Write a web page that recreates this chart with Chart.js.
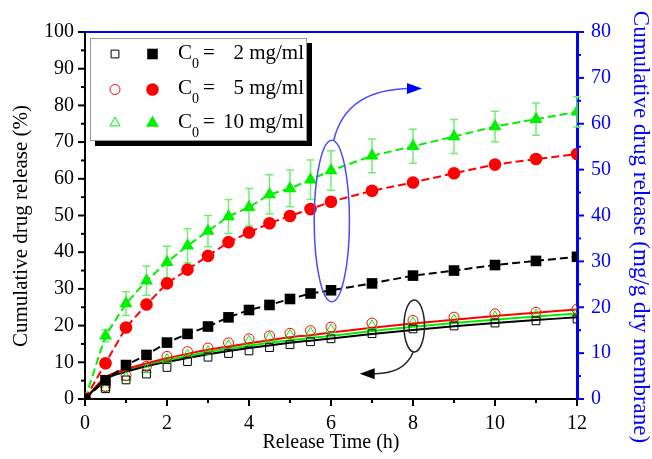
<!DOCTYPE html>
<html>
<head>
<meta charset="utf-8">
<script src="https://cdn.jsdelivr.net/npm/chart.js@4.4.0/dist/chart.umd.min.js"></script>
<style>
    html, body { margin: 0; padding: 0; background: #fff; }
    #wrap { width: 652px; height: 459px; }
</style>
</head>
<body>
<div id="wrap"><canvas id="releaseChart" width="652" height="459"></canvas></div>
<script>
const releaseTimes = [0, 0.5, 1, 1.5, 2, 2.5, 3, 3.5, 4, 4.5, 5, 5.5, 6, 7, 8, 9, 10, 11, 12];

// mg/g dry membrane (right axis), filled markers
const amount2 = [0, 4.1, 7.4, 9.6, 12.3, 14.2, 15.8, 17.8, 19.4, 20.5, 21.8, 23.0, 23.7, 25.2, 26.9, 28.0, 29.2, 30.1, 31.0];
const amount5 = [0, 7.8, 15.6, 20.6, 25.2, 28.2, 31.2, 34.2, 36.3, 38.3, 39.9, 41.4, 43.0, 45.4, 47.2, 49.2, 51.1, 52.3, 53.4];
const amount10 = [0, 13.8, 20.8, 25.8, 29.8, 33.4, 36.6, 39.8, 41.8, 44.6, 45.9, 47.8, 49.8, 53.0, 55.1, 57.2, 59.4, 61.0, 62.6];
const amount10Err = [0, 1.3, 2.6, 3.2, 3.5, 3.7, 3.4, 3.7, 4.1, 4.3, 4.0, 4.3, 4.3, 3.7, 3.7, 3.7, 3.3, 3.5, 3.3];

// cumulative release % (left axis), open markers
const percent2 = [0, 2.8, 5.2, 6.8, 8.6, 10.2, 11.4, 12.4, 13.1, 14.0, 14.8, 15.6, 16.4, 17.8, 19.1, 19.9, 20.7, 21.3, 21.8];
const percent5 = [0, 3.4, 6.4, 8.9, 11.6, 12.9, 13.9, 15.3, 16.4, 17.2, 17.9, 18.6, 19.6, 20.7, 21.4, 22.3, 23.2, 23.6, 24.5];
const percent10 = [0, 3.0, 5.9, 8.0, 10.8, 12.0, 13.0, 14.6, 15.8, 16.7, 17.4, 18.0, 18.9, 20.0, 20.8, 21.6, 22.4, 22.9, 23.6];

// fitted curves through the % data
const fit2 = [0, 5.4, 7.4, 8.9, 10.1, 11.2, 12.2, 13.1, 13.9, 14.6, 15.3, 15.9, 16.5, 17.7, 18.8, 19.8, 20.7, 21.5, 22.3];
const fit5 = [0, 5.9, 8.1, 9.7, 11.1, 12.3, 13.4, 14.3, 15.2, 16.0, 16.8, 17.4, 18.1, 19.4, 20.6, 21.6, 22.6, 23.5, 24.4];
const fit10 = [0, 5.6, 7.7, 9.3, 10.6, 11.7, 12.8, 13.7, 14.5, 15.3, 16.0, 16.6, 17.2, 18.5, 19.7, 20.7, 21.6, 22.5, 23.3];

const legendLabels = ['2 mg/ml', '5 mg/ml', '10 mg/ml'];
const timeTicks = [0, 2, 4, 6, 8, 10, 12];
const percentTicks = [0, 10, 20, 30, 40, 50, 60, 70, 80, 90, 100];
const amountTicks = [0, 10, 20, 30, 40, 50, 60, 70, 80];

const SERIF = '"Liberation Serif", "Times New Roman", serif';
const BLUE = '#0000ff';
const GREEN = '#00f000';
Chart.defaults.font.family = SERIF;

const toPoints = values => releaseTimes.map((t, i) => ({ x: t, y: values[i] }));
const useTicks = list => scale => { scale.ticks = list.map(v => ({ value: v })); };

const series = [
    { color: '#000', style: 'rect', filled: amount2, open: percent2, fit: fit2, big: 7.5, small: 5.5 },
    { color: '#ff0000', style: 'circle', filled: amount5, open: percent5, fit: fit5, big: 6.3, small: 5 },
    { color: GREEN, style: 'triangle', filled: amount10, open: percent10, fit: fit10, big: 7.5, small: 5.8 }
];

const datasets = [];
series.forEach(s => datasets.push({
    data: toPoints(s.filled), yAxisID: 'y2',
    borderColor: s.color, backgroundColor: s.color, borderWidth: 2, borderDash: [8, 4],
    pointStyle: s.style, pointRadius: s.big, pointBorderWidth: 0,
    pointBackgroundColor: s.color, order: 1
}));
series.forEach(s => datasets.push({
    data: toPoints(s.open), yAxisID: 'y', showLine: false,
    pointStyle: s.style, pointRadius: s.small, pointBorderWidth: 1,
    pointBorderColor: s.color, pointBackgroundColor: 'rgba(0,0,0,0)', order: 2
}));
series.forEach(s => datasets.push({
    data: toPoints(s.fit), yAxisID: 'y',
    borderColor: s.color, borderWidth: 2, pointRadius: 0,
    cubicInterpolationMode: 'monotone', order: 3
}));

function drawTicks(ctx, chart) {
    const { x, y, y2 } = chart.scales;
    const area = chart.chartArea;
    ctx.lineWidth = 2;
    ctx.strokeStyle = '#000';
    for (let v = 0; v <= 12; v += 1) {
        const px = x.getPixelForValue(v);
        const len = timeTicks.includes(v) ? 7 : 4;
        ctx.beginPath(); ctx.moveTo(px, area.bottom); ctx.lineTo(px, area.bottom + len); ctx.stroke();
    }
    for (let v = 0; v <= 100; v += 5) {
        const py = y.getPixelForValue(v);
        const len = percentTicks.includes(v) ? 7 : 4;
        ctx.beginPath(); ctx.moveTo(area.left, py); ctx.lineTo(area.left - len, py); ctx.stroke();
    }
    ctx.strokeStyle = BLUE;
    for (let v = 0; v <= 80; v += 5) {
        const py = y2.getPixelForValue(v);
        const len = amountTicks.includes(v) ? 7 : 4;
        ctx.beginPath(); ctx.moveTo(area.right, py); ctx.lineTo(area.right + len, py); ctx.stroke();
    }
    // top frame line
    ctx.beginPath(); ctx.moveTo(area.left, area.top); ctx.lineTo(area.right, area.top); ctx.stroke();
}

function drawAxisTitles(ctx) {
    ctx.textAlign = 'center';
    ctx.textBaseline = 'middle';
    ctx.save();
    ctx.translate(21, 226);
    ctx.rotate(-Math.PI / 2);
    ctx.fillStyle = '#000';
    ctx.font = '21px ' + SERIF;
    ctx.fillText('Cumulative drug release (%)', 0, 0);
    ctx.restore();
    ctx.save();
    ctx.translate(640, 227);
    ctx.rotate(Math.PI / 2);
    ctx.fillStyle = BLUE;
    ctx.font = '23px ' + SERIF;
    ctx.fillText('Cumulative drug release (mg/g dry membrane)', 0, 0);
    ctx.restore();
}

function arrowHead(ctx, tipX, tipY, dir) {
    ctx.beginPath();
    ctx.moveTo(tipX, tipY);
    ctx.lineTo(tipX - dir * 15, tipY - 5.5);
    ctx.lineTo(tipX - dir * 15, tipY + 5.5);
    ctx.closePath();
    ctx.fill();
}

function drawNotes(ctx, chart) {
    const { x, y } = chart.scales;
    // blue ellipse around the mg/g markers at 6 h, arrow to right axis
    const bx = x.getPixelForValue(6.02), by = y.getPixelForValue(48.5);
    const brx = x.getPixelForValue(6.45) - bx, bry = by - y.getPixelForValue(70.5);
    ctx.strokeStyle = '#4a4aff'; ctx.fillStyle = BLUE; ctx.lineWidth = 1.5;
    ctx.beginPath(); ctx.ellipse(bx, by, brx, bry, 0, 0, Math.PI * 2); ctx.stroke();
    ctx.beginPath();
    ctx.moveTo(bx + 2, by - bry);
    ctx.quadraticCurveTo(bx + 14, y.getPixelForValue(84.5), x.getPixelForValue(7.95), y.getPixelForValue(84.6));
    ctx.stroke();
    arrowHead(ctx, x.getPixelForValue(8.22), y.getPixelForValue(84.6), 1);

    // black ellipse around the % markers at 8 h, arrow to left axis
    const kx = x.getPixelForValue(8.03), ky = y.getPixelForValue(19.9);
    const krx = x.getPixelForValue(8.28) - kx, kry = ky - y.getPixelForValue(27);
    ctx.strokeStyle = '#222'; ctx.fillStyle = '#000';
    ctx.beginPath(); ctx.ellipse(kx, ky, krx, kry, 0, 0, Math.PI * 2); ctx.stroke();
    ctx.beginPath();
    ctx.moveTo(kx - 1, ky + kry);
    ctx.quadraticCurveTo(kx - 10, y.getPixelForValue(6.8), x.getPixelForValue(7.05), y.getPixelForValue(6.9));
    ctx.stroke();
    arrowHead(ctx, x.getPixelForValue(6.7), y.getPixelForValue(6.9), -1);
}

function drawLegend(ctx) {
    const rows = [54, 89.5, 123];
    ctx.fillStyle = '#000';
    ctx.fillRect(95, 43, 217, 103);
    ctx.fillStyle = '#fff';
    ctx.fillRect(90, 38, 217, 103);
    ctx.strokeStyle = '#999'; ctx.lineWidth = 1;
    ctx.strokeRect(90.5, 38.5, 216, 102);
    series.forEach((s, i) => {
        const yy = rows[i];
        ctx.strokeStyle = s.color; ctx.fillStyle = 'rgba(0,0,0,0)';
        Chart.helpers.drawPoint(ctx, { pointStyle: s.style, radius: s.small, borderWidth: 1, rotation: 0 }, 115, yy);
        ctx.fillStyle = s.color;
        Chart.helpers.drawPoint(ctx, { pointStyle: s.style, radius: s.big, borderWidth: 0, rotation: 0 }, 152.5, yy);
        ctx.fillStyle = '#000';
        ctx.textBaseline = 'middle';
        ctx.textAlign = 'left';
        ctx.font = '21px ' + SERIF;
        ctx.fillText('C', 178, yy - 1);
        ctx.fillText('=', 203, yy - 1);
        ctx.font = '14px ' + SERIF;
        ctx.fillText('0', 192, yy + 10);
        ctx.font = '21px ' + SERIF;
        ctx.textAlign = 'right';
        ctx.fillText(legendLabels[i], 304, yy - 1);
    });
}

const decorations = {
    id: 'decorations',
    beforeDatasetsDraw(chart) {
        const { ctx } = chart;
        const { x, y2 } = chart.scales;
        ctx.save();
        ctx.strokeStyle = '#70ee70';
        ctx.lineWidth = 1.5;
        releaseTimes.forEach((t, i) => {
            const err = amount10Err[i];
            if (!err) return;
            const px = x.getPixelForValue(t);
            const top = y2.getPixelForValue(amount10[i] + err);
            const bot = y2.getPixelForValue(amount10[i] - err);
            ctx.beginPath();
            ctx.moveTo(px, top); ctx.lineTo(px, bot);
            ctx.moveTo(px - 4, top); ctx.lineTo(px + 4, top);
            ctx.moveTo(px - 4, bot); ctx.lineTo(px + 4, bot);
            ctx.stroke();
        });
        ctx.restore();
    },
    afterDraw(chart) {
        const { ctx } = chart;
        ctx.save();
        drawTicks(ctx, chart);
        drawAxisTitles(ctx);
        drawNotes(ctx, chart);
        drawLegend(ctx);
        ctx.restore();
    }
};

new Chart(document.getElementById('releaseChart'), {
    type: 'line',
    data: { datasets },
    options: {
        responsive: false,
        animation: false,
        layout: { padding: { top: 32, left: 0, right: 0, bottom: 0 } },
        plugins: { legend: { display: false }, tooltip: { enabled: false } },
        scales: {
            x: {
                type: 'linear', min: 0, max: 12,
                afterBuildTicks: useTicks(timeTicks),
                afterFit: s => { s.height = 60; },
                grid: { drawOnChartArea: false, drawTicks: false },
                border: { color: '#000', width: 2 },
                ticks: { padding: 13, color: '#000', font: { size: 20 } },
                title: { display: true, text: 'Release Time (h)', color: '#000', font: { size: 20 }, padding: { top: 0, bottom: 4 } }
            },
            y: {
                position: 'left', min: 0, max: 100,
                afterBuildTicks: useTicks(percentTicks),
                afterFit: s => { s.width = 85; },
                grid: { drawOnChartArea: false, drawTicks: false },
                border: { color: '#000', width: 2 },
                ticks: { padding: 11, color: '#000', font: { size: 20 } }
            },
            y2: {
                position: 'right', min: 0, max: 80,
                afterBuildTicks: useTicks(amountTicks),
                afterFit: s => { s.width = 75; },
                grid: { drawOnChartArea: false, drawTicks: false },
                border: { color: BLUE, width: 3 },
                ticks: { padding: 14, color: BLUE, font: { size: 20 } }
            }
        }
    },
    plugins: [decorations]
});
</script>
</body>
</html>
